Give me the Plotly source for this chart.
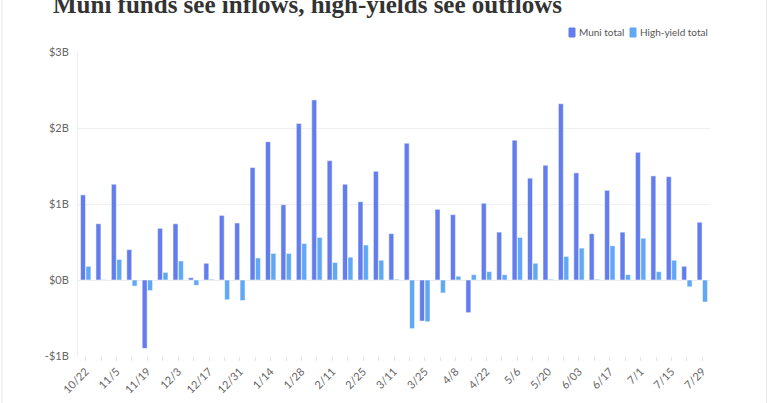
import plotly.graph_objects as go

dates = ["10/22", "10/29", "11/5", "11/12", "11/19", "11/26", "12/3", "12/10", "12/17", "12/24",
         "12/31", "1/7", "1/14", "1/21", "1/28", "2/4", "2/11", "2/18", "2/25", "3/4",
         "3/11", "3/18", "3/25", "4/1", "4/8", "4/15", "4/22", "4/29", "5/6", "5/13",
         "5/20", "5/27", "6/03", "6/10", "6/17", "6/24", "7/1", "7/8", "7/15", "7/22", "7/29"]

muni_total = [1.12, 0.74, 1.26, 0.40, -0.90, 0.68, 0.74, 0.03, 0.22, 0.85,
              0.75, 1.48, 1.82, 0.99, 2.06, 2.37, 1.57, 1.26, 1.03, 1.43,
              0.61, 1.80, -0.54, 0.93, 0.86, -0.43, 1.01, 0.63, 1.84, 1.34,
              1.51, 2.32, 1.41, 0.61, 1.18, 0.63, 1.68, 1.37, 1.36, 0.18, 0.76]

high_yield_total = [0.18, 0.005, 0.27, -0.08, -0.14, 0.10, 0.25, -0.07, 0.01, -0.26,
                    -0.27, 0.29, 0.35, 0.35, 0.48, 0.56, 0.23, 0.30, 0.46, 0.26,
                    0.01, -0.64, -0.55, -0.17, 0.05, 0.07, 0.11, 0.07, 0.56, 0.22,
                    0.01, 0.31, 0.42, 0.01, 0.45, 0.07, 0.55, 0.11, 0.26, -0.09, -0.29]

series_names = ["Muni total", "High-yield total"]
series_colors = ["#637EEC", "#60A7F4"]

y_ticks = [-1, 0, 1, 2, 3]
y_ticktext = ["-$1B", "$0B", "$1B", "$2B", "$3B"]

idx = list(range(len(dates)))

W, H = 768, 403
L, R, T, B = 78, 58, 52, 47
pw, ph = W - L - R, H - T - B

def px_x(px):
    return (px - L) / pw

def px_y(py):
    return 1 - (py - T) / ph

fig = go.Figure()
for vals, name, col in zip([muni_total, high_yield_total], series_names, series_colors):
    fig.add_trace(go.Bar(x=idx, y=vals, name=name,
                         marker=dict(color=col, line=dict(color="white", width=0.5))))

font_family = "Lato, 'Open Sans', sans-serif"

fig.update_layout(
    width=W, height=H,
    margin=dict(l=L, r=R, t=T, b=B, pad=0, autoexpand=False),
    paper_bgcolor="white", plot_bgcolor="white",
    barmode="group", bargap=0.3, bargroupgap=0.08,
    font=dict(family=font_family, size=11, color="#666"),
    showlegend=False,
    xaxis=dict(range=[-0.5, len(dates) - 0.5], automargin=False,
               tickmode="array", tickvals=idx[::2], ticktext=dates[::2],
               tickangle=-45, tickfont=dict(size=11, color="#666"),
               showgrid=False, zeroline=False,
               showline=False,
               ticks="outside", ticklen=4, tickcolor="#e6e6e6",
               minor=dict(dtick=1, tick0=0, ticks="outside", ticklen=4, tickcolor="#e6e6e6", showgrid=False)),
    yaxis=dict(range=[-1, 3], automargin=False, tickmode="array", tickvals=y_ticks, ticktext=y_ticktext,
               showgrid=True, gridcolor="#f0f0f0", gridwidth=1,
               zeroline=True, zerolinecolor="#ececec", zerolinewidth=1,
               showline=True, linecolor="#eeeeee", linewidth=1,
               tickfont=dict(size=11, color="#666"), ticks="", ticklabelstandoff=6),
)

# custom compact legend
legend_pos = [(569, 577), (630, 638)]
for (mx, tx), name, col in zip(legend_pos, series_names, series_colors):
    fig.add_shape(type="rect", xref="paper", yref="paper",
                  x0=px_x(mx), x1=px_x(mx + 6), y0=px_y(37), y1=px_y(28),
                  fillcolor=col, line=dict(color=col, width=1))
    fig.add_annotation(text=name, xref="paper", yref="paper", x=px_x(tx), y=px_y(32.5),
                       xanchor="left", yanchor="middle", showarrow=False,
                       font=dict(family=font_family, size=10, color="#555"))

fig.add_annotation(text="<b>Muni funds see inflows, high-yields see outflows</b>",
                   xref="paper", yref="paper", x=px_x(51), y=px_y(20),
                   xanchor="left", yanchor="bottom", showarrow=False,
                   font=dict(family="'Liberation Serif', 'DejaVu Serif', serif", size=25, color="#333"))

fig.add_annotation(text="Source: LSEG Lipper",
                   xref="paper", yref="paper", x=px_x(50), y=px_y(402),
                   xanchor="left", yanchor="top", showarrow=False,
                   font=dict(family=font_family, size=10, color="#666"))

for xb in (2, 766.5):
    fig.add_shape(type="line", xref="paper", yref="paper",
                  x0=px_x(xb), x1=px_x(xb), y0=px_y(H + 5), y1=px_y(-5),
                  line=dict(color="#e8e8e8", width=1))

fig.write_html("out.html")
